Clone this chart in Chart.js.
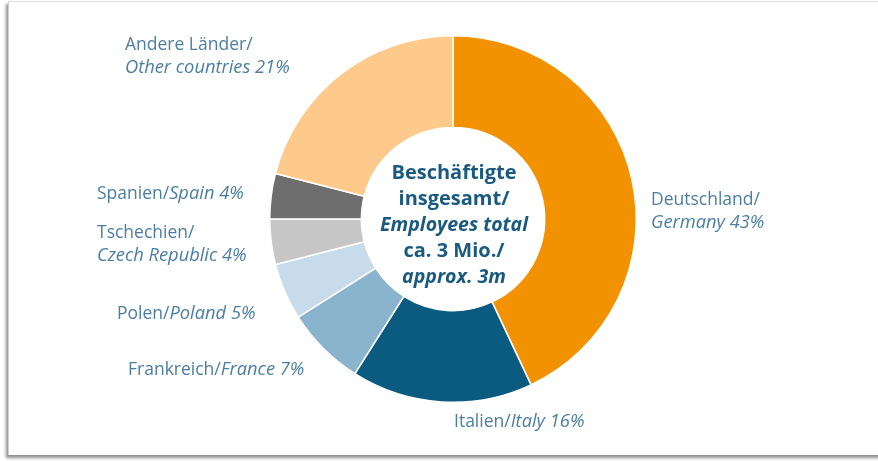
<!DOCTYPE html>
<html>
<head>
<meta charset="utf-8">
<script src="https://cdn.jsdelivr.net/npm/chart.js@4"></script>
<style>
  html, body { margin: 0; padding: 0; background: #fff; }
  #wrap { position: relative; width: 878px; height: 461px; overflow: hidden; background: #fff; }
  #frame {
    position: absolute; left: 8px; top: 1px; width: 890px; height: 453px;
    border-top: 1px solid #e4e4e4; border-left: 1px solid #cfcfcf;
    box-shadow: -2px 3px 3px rgba(0,0,0,0.45);
  }
  #grafico { position: absolute; left: 0; top: 0; }
</style>
</head>
<body>
<div id="wrap">
  <div id="frame"></div>
  <canvas id="grafico" width="878" height="461"></canvas>
</div>
<script>
// Datos del gráfico
var paises = ['Deutschland', 'Italien', 'Frankreich', 'Polen', 'Tschechien', 'Spanien', 'Andere Länder'];
var paisesEn = ['Germany', 'Italy', 'France', 'Poland', 'Czech Republic', 'Spain', 'Other countries'];
var porcentajes = [43, 16, 7, 5, 4, 4, 21];
var colores = ['#f39200', '#0b5a80', '#8ab3ce', '#c7dbea', '#c6c6c6', '#6f6e6f', '#fdca8b'];
var textoCentro = ['Beschäftigte', 'insgesamt/', 'Employees total', 'ca. 3 Mio./', 'approx. 3m'];

// posiciones de las etiquetas (x izquierda, y centro de la primera linea, dos lineas o una)
var etiquetas = [
    { x: 651, y: 200, dos: true },
    { x: 454, y: 422, dos: false },
    { x: 128, y: 370, dos: false },
    { x: 117, y: 314, dos: false },
    { x: 97, y: 233, dos: true },
    { x: 97, y: 194, dos: false },
    { x: 125, y: 45, dos: true }
];

var fuente = '"Open Sans", sans-serif';

var pluginTextos = {
    id: 'textos',
    afterDraw: function(chart) {
        var ctx = chart.ctx;
        var arco = chart.getDatasetMeta(0).data[0];
        ctx.save();
        ctx.textBaseline = 'middle';

        // texto del centro
        ctx.fillStyle = '#1b5a7f';
        ctx.textAlign = 'center';
        var yc = arco.y - 46;
        textoCentro.forEach(function(t, i) {
            var it = (i === 2 || i === 4) ? 'italic bold 19.5px ' : 'bold 20px ';
            ctx.font = it + fuente;
            ctx.fillText(t, arco.x + 1, yc + i * 26);
        });

        // etiquetas
        ctx.textAlign = 'left';
        ctx.fillStyle = '#4a7ea2';
        paises.forEach(function(p, i) {
            var e = etiquetas[i];
            var resto = paisesEn[i] + ' ' + porcentajes[i] + '%';
            ctx.font = '17.5px ' + fuente;
            if (e.dos) {
                ctx.fillText(p + '/', e.x, e.y);
                ctx.font = 'italic 18.3px ' + fuente;
                ctx.fillText(resto, e.x, e.y + 23);
            } else {
                var a = p + '/';
                ctx.fillText(a, e.x, e.y);
                var w = ctx.measureText(a).width;
                ctx.font = 'italic 18.3px ' + fuente;
                ctx.fillText(resto, e.x + w, e.y);
            }
        });
        ctx.restore();
    }
};

var config = {
    type: 'doughnut',
    data: {
        labels: paises,
        datasets: [{
            data: porcentajes,
            backgroundColor: colores,
            borderColor: '#ffffff',
            borderWidth: 1.5,
            hoverOffset: 0
        }]
    },
    options: {
        responsive: false,
        animation: false,
        cutout: '50%',
        layout: { padding: { left: 28, right: 0, top: 35, bottom: 58 } },
        plugins: {
            legend: { display: false },
            tooltip: { enabled: false }
        }
    },
    plugins: [pluginTextos]
};

var graficoDona = new Chart(document.getElementById('grafico'), config);
</script>
</body>
</html>
